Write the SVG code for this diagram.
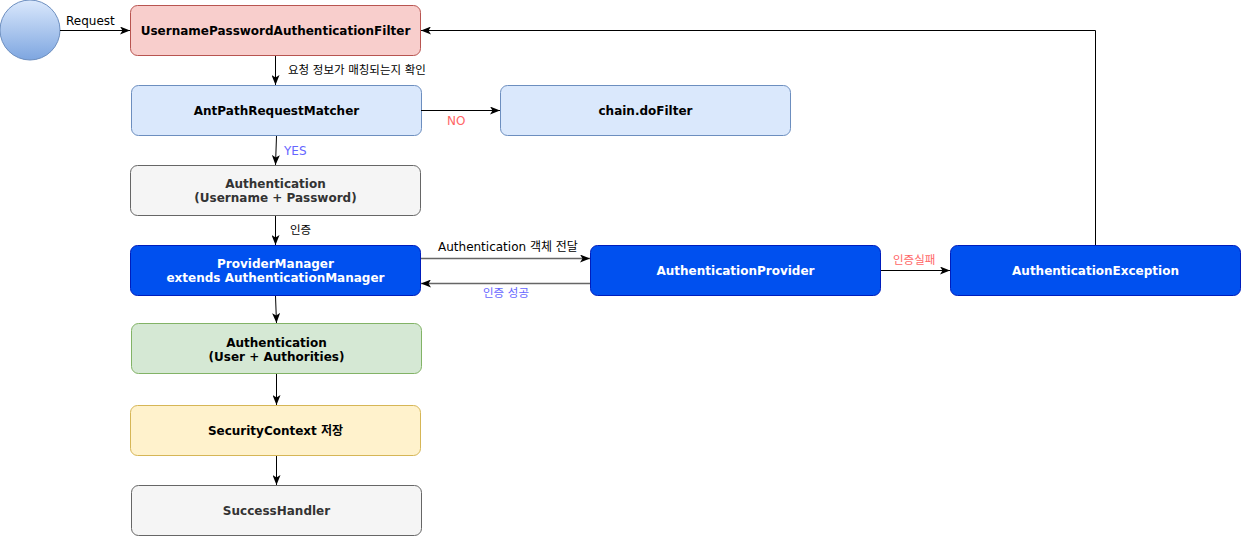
<svg xmlns="http://www.w3.org/2000/svg" width="1241" height="536" viewBox="0 0 1241 536">
<defs>
<linearGradient id="g1" x1="0" y1="0" x2="0" y2="1">
<stop offset="0" stop-color="#dae8fc"/>
<stop offset="1" stop-color="#7ea6e0"/>
</linearGradient>
<marker id="ab" viewBox="0 0 10 8" refX="10" refY="4" markerWidth="10" markerHeight="8" markerUnits="userSpaceOnUse" orient="auto">
<path d="M0,0 L10,4 L0,8 L2.5,4 Z" fill="#000"/>
</marker>
</defs>
<style>
text{font-family:"DejaVu Sans","Noto Sans CJK KR",sans-serif;}
.n{font-size:12px;font-weight:bold;text-anchor:middle;}
.l{font-size:12px;}
.k{font-size:11.5px;}
.e{fill:none;stroke:#000;stroke-width:1;marker-end:url(#ab);}
.eg{fill:none;stroke:#666;stroke-width:1.5;marker-end:url(#ab);}
</style>
<rect width="1241" height="536" fill="#fff"/>
<g id="start"><circle cx="30" cy="30" r="30" fill="url(#g1)" stroke="#6c8ebf"/></g>
<g id="filter"><rect x="130.5" y="5.5" width="290" height="50" rx="7" fill="#f8cecc" stroke="#b85450"/><text class="n" x="275.5" y="35">UsernamePasswordAuthenticationFilter</text></g>
<g id="matcher"><rect x="131.5" y="85.5" width="290" height="50" rx="7" fill="#dae8fc" stroke="#6c8ebf"/><text class="n" x="276.5" y="115">AntPathRequestMatcher</text></g>
<g id="dofilter"><rect x="500.5" y="85.5" width="290" height="50" rx="7" fill="#dae8fc" stroke="#6c8ebf"/><text class="n" x="645.5" y="115">chain.doFilter</text></g>
<g id="authup"><rect x="130.5" y="165.5" width="290" height="50" rx="7" fill="#f5f5f5" stroke="#666666"/><text class="n" fill="#333333" x="275.5" y="188">Authentication</text><text class="n" fill="#333333" x="275.5" y="202">(Username + Password)</text></g>
<g id="pm"><rect x="130.5" y="245.5" width="290" height="50" rx="7" fill="#0050ef" stroke="#001dbc"/><text class="n" fill="#fff" x="275.5" y="268">ProviderManager</text><text class="n" fill="#fff" x="275.5" y="282">extends AuthenticationManager</text></g>
<g id="ap"><rect x="590.5" y="245.5" width="290" height="50" rx="7" fill="#0050ef" stroke="#001dbc"/><text class="n" fill="#fff" x="735.5" y="275">AuthenticationProvider</text></g>
<g id="ae"><rect x="950.5" y="245.5" width="290" height="50" rx="7" fill="#0050ef" stroke="#001dbc"/><text class="n" fill="#fff" x="1095.5" y="275">AuthenticationException</text></g>
<g id="authua"><rect x="131.5" y="323.5" width="290" height="50" rx="7" fill="#d5e8d4" stroke="#82b366"/><text class="n" x="276.5" y="347">Authentication</text><text class="n" x="276.5" y="361">(User + Authorities)</text></g>
<g id="sc"><rect x="130.5" y="405.5" width="290" height="50" rx="7" fill="#fff2cc" stroke="#d6b656"/><text class="n" x="275.5" y="435">SecurityContext 저장</text></g>
<g id="sh"><rect x="131.5" y="485.5" width="290" height="50" rx="7" fill="#f5f5f5" stroke="#666666"/><text class="n" fill="#333333" x="276.5" y="515">SuccessHandler</text></g>
<g id="connectors">
<path class="e" d="M60,30.5 H130"/>
<text class="l" x="66" y="25">Request</text>
<path class="e" d="M275.5,56 V85"/>
<text class="k" x="288" y="74">요청 정보가 매칭되는지 확인</text>
<path class="e" d="M421,110.5 H500"/>
<text class="l" x="447" y="125" fill="#ff6666">NO</text>
<path class="e" d="M276.5,136 L275.5,165"/>
<text class="l" x="284" y="155" fill="#6666ff">YES</text>
<path class="e" d="M275.5,216 V245"/>
<text class="k" x="290" y="234">인증</text>
<path class="eg" d="M421,258.5 H590"/>
<text class="l" x="438" y="251">Authentication 객체 전달</text>
<path class="eg" d="M590,283.5 H421"/>
<text class="k" x="483" y="297" fill="#6666ff">인증 성공</text>
<path class="e" d="M881,270.5 H950"/>
<text class="k" x="893" y="264" fill="#ff6666">인증실패</text>
<path class="e" d="M1095.5,245 V30.5 H421"/>
<path class="e" d="M275.5,296 L276.5,323"/>
<path class="e" d="M276.5,374 V405"/>
<path class="e" d="M276.5,456 V485"/>
</g>
</svg>
